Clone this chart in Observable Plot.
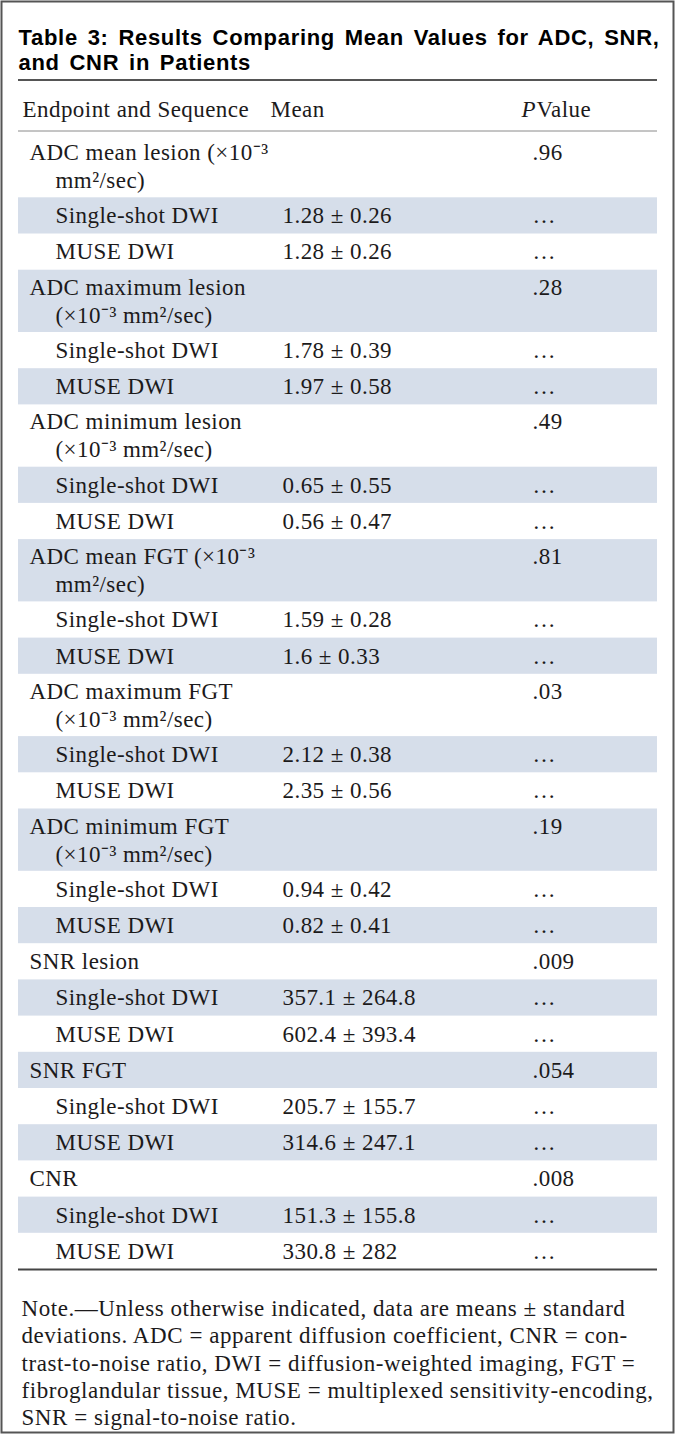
<!DOCTYPE html>
<html>
<head>
<meta charset="utf-8">
<script src="https://cdn.jsdelivr.net/npm/d3@7"></script>
<script src="https://cdn.jsdelivr.net/npm/@observablehq/plot@0.6"></script>
<style>
  html, body { margin: 0; padding: 0; background: #fff; }
  #chart svg { display: block; }
  #chart .serif, #chart .serif text, #chart .serif tspan { font-family: "Liberation Serif", "Times New Roman", serif !important; letter-spacing: 0.45px; }
  #chart .note, #chart .note text, #chart .note tspan { font-family: "Liberation Serif", "Times New Roman", serif !important; letter-spacing: 0.55px; }
  #chart .sans, #chart .sans text, #chart .sans tspan { font-family: "Liberation Sans", Arial, sans-serif !important; letter-spacing: 0.7px; word-spacing: 3px; }
</style>
</head>
<body>
<div id="chart"></div>
<script>
// ---------- data ----------
const title = "Table 3: Results Comparing Mean Values for ADC, SNR,\nand CNR in Patients";
const headers = ["Endpoint and Sequence", "Mean", "P", "Value"];
const endpoints = [
  "ADC mean lesion (×10⁻³\nmm²/sec)",
  "ADC maximum lesion\n(×10⁻³ mm²/sec)",
  "ADC minimum lesion\n(×10⁻³ mm²/sec)",
  "ADC mean FGT (×10⁻³\nmm²/sec)",
  "ADC maximum FGT\n(×10⁻³ mm²/sec)",
  "ADC minimum FGT\n(×10⁻³ mm²/sec)",
  "SNR lesion",
  "SNR FGT",
  "CNR"
];
const sequences = ["Single-shot DWI", "MUSE DWI"];
const singleShotMean = [1.28, 1.78, 0.65, 1.59, 2.12, 0.94, 357.1, 205.7, 151.3];
const singleShotSD   = [0.26, 0.39, 0.55, 0.28, 0.38, 0.42, 264.8, 155.7, 155.8];
const museMean       = [1.28, 1.97, 0.56, 1.6, 2.35, 0.82, 602.4, 314.6, 330.8];
const museSD         = [0.26, 0.58, 0.47, 0.33, 0.56, 0.41, 393.4, 247.1, 282];
const pValues        = [0.96, 0.28, 0.49, 0.81, 0.03, 0.19, 0.009, 0.054, 0.008];
const noteText = "Note.—Unless otherwise indicated, data are means ± standard\ndeviations. ADC = apparent diffusion coefficient, CNR = con-\ntrast-to-noise ratio, DWI = diffusion-weighted imaging, FGT =\nfibroglandular tissue, MUSE = multiplexed sensitivity-encoding,\nSNR = signal-to-noise ratio.";

// ---------- layout ----------
const W = 675, H = 1435;
const XR0 = 18, XR1 = 657;
const X_HEAD = 22, X_HEAD_MEAN = 270, X_HEAD_P = 521, X_HEAD_VAL = 536;
const X_CAT = 29, X_SUB = 55, X_MEAN = 282, X_P = 532;
const Y_TITLE = 50, TITLE_LH = 25.8, Y_RULE_TOP = 79.5, Y_HEAD = 109, Y_RULE_HEAD = 130.5;
const Y_BODY0 = 135, ROW1 = 36.2, ROW2 = 62.3, LINE_GAP = 28;
const Y_NOTE = 1361.5, NOTE_LH = 27.3;
const SERIF = "Liberation Serif";
const SANS = "Liberation Sans";
const INK = "#1c1a1b";
const BAND = "#d6deea";

const fmtP = p => String(p).replace(/^0/, "");
const rows = [];
let y = Y_BODY0;
endpoints.forEach((e, i) => {
  const lines = e.split("\n");
  const h = lines.length > 1 ? ROW2 : ROW1;
  rows.push({kind: "cat", lines, p: fmtP(pValues[i]), y0: y, y1: y + h});
  y += h;
  rows.push({kind: "sub", lines: [sequences[0]], mean: `${singleShotMean[i]} ± ${singleShotSD[i]}`, p: "…", y0: y, y1: y + ROW1});
  y += ROW1;
  rows.push({kind: "sub", lines: [sequences[1]], mean: `${museMean[i]} ± ${museSD[i]}`, p: "…", y0: y, y1: y + ROW1});
  y += ROW1;
});
const yBottom = y;
rows.forEach((r, i) => { r.band = i % 2 === 1; r.mid = (r.y0 + r.y1) / 2; });

const cells = [];
rows.forEach(r => {
  const n = r.lines.length;
  r.lines.forEach((t, k) => {
    const ly = r.mid + (k - (n - 1) / 2) * LINE_GAP;
    cells.push({x: r.kind === "cat" && k === 0 ? X_CAT : X_SUB, y: ly, text: t});
    if (k === 0) {
      if (r.mean) cells.push({x: X_MEAN, y: ly, text: r.mean});
      cells.push({x: X_P, y: ly, text: r.p});
    }
  });
});

const headCells = [
  {x: X_HEAD, text: headers[0], style: "normal"},
  {x: X_HEAD_MEAN, text: headers[1], style: "normal"},
  {x: X_HEAD_P, text: headers[2], style: "italic"},
  {x: X_HEAD_VAL, text: headers[3], style: "normal"}
];

const titleLines = title.split("\n").map((t, k, a) => ({text: t, y: Y_TITLE + (k - (a.length - 1) / 2) * TITLE_LH}));

const serifText = {textAnchor: "start", lineAnchor: "middle", fontFamily: SERIF, fill: INK, className: "serif"};

const chart = Plot.plot({
  width: W, height: H, margin: 0,
  x: {domain: [0, W], range: [0, W], axis: null},
  y: {domain: [0, H], range: [0, H], axis: null},
  style: {background: "#fff", color: INK},
  marks: [
    Plot.rect(rows.filter(r => r.band), {x1: XR0, x2: XR1, y1: "y0", y2: "y1", fill: BAND}),
    Plot.ruleY([Y_RULE_TOP], {x1: XR0, x2: XR1, stroke: "#555", strokeWidth: 2}),
    Plot.ruleY([Y_RULE_HEAD], {x1: XR0, x2: XR1, stroke: "#8a8a8a", strokeWidth: 1}),
    Plot.ruleY([yBottom], {x1: XR0, x2: XR1, stroke: "#444", strokeWidth: 2}),
    Plot.text(titleLines, {x: XR0, y: "y", text: "text", textAnchor: "start", lineAnchor: "middle",
      fontFamily: SANS, fontWeight: "bold", fontSize: 22, fill: "#000", className: "sans"}),
    Plot.text(headCells.filter(d => d.style === "normal"), {...serifText, x: "x", y: Y_HEAD, text: "text", fontSize: 23}),
    Plot.text(headCells.filter(d => d.style === "italic"), {...serifText, x: "x", y: Y_HEAD, text: "text", fontSize: 23, fontStyle: "italic"}),
    Plot.text(cells, {...serifText, x: "x", y: "y", text: "text", fontSize: 23}),
    Plot.text([noteText], {...serifText, className: "note", x: 21, y: Y_NOTE, text: d => d, fontSize: 23, lineHeight: NOTE_LH / 23}),
    Plot.frame({stroke: "#555", strokeWidth: 2, insetLeft: 1, insetTop: 1, insetRight: 2, insetBottom: 3})
  ]
});
document.getElementById("chart").appendChild(chart);
</script>
</body>
</html>
